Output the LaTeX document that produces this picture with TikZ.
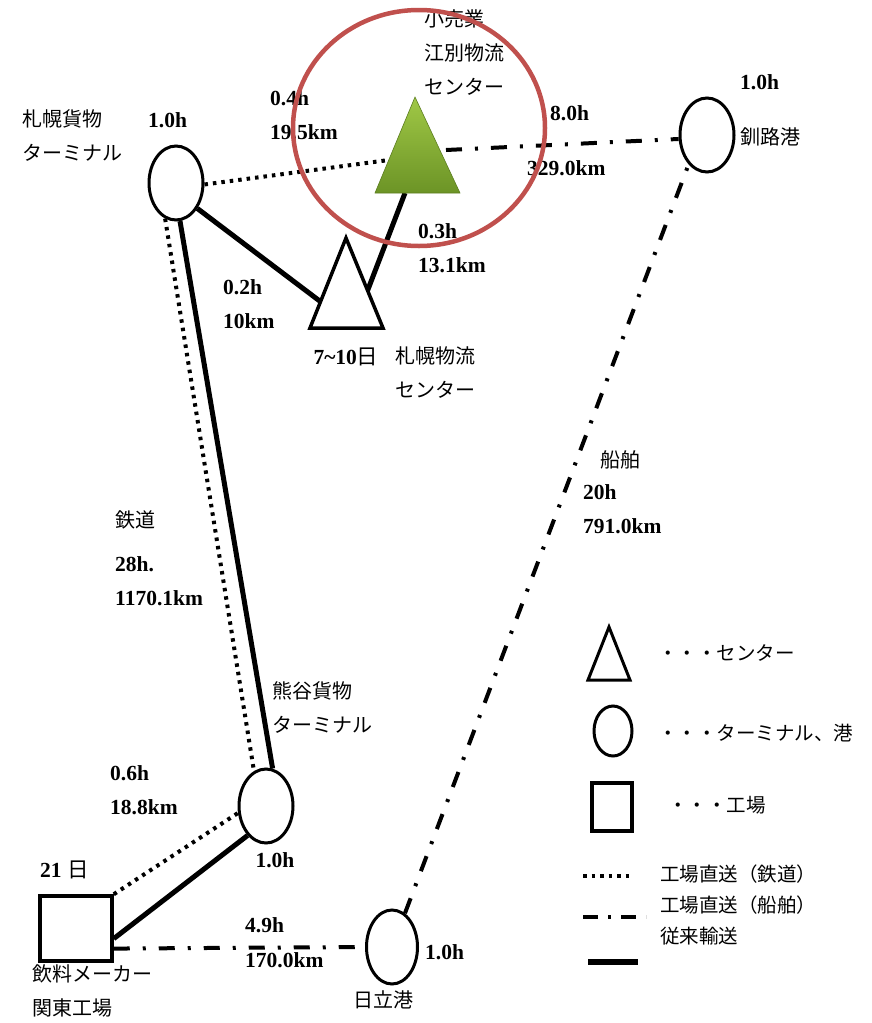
\documentclass[tikz,border=0pt]{standalone}
\usepackage{fontspec}
\setmainfont{Liberation Serif}
\newfontfamily\jp{Noto Sans CJK JP}
\usetikzlibrary{shapes.geometric}
\definecolor{redc}{RGB}{192,80,77}
\definecolor{gtop}{RGB}{160,200,70}
\definecolor{gbot}{RGB}{108,148,38}
\begin{document}
\begin{tikzpicture}[x=1pt,y=-1pt,
 term/.style={draw,ellipse,line width=3pt,minimum width=54pt,minimum height=74pt,inner sep=0pt,fill=white},
 num/.style={font=\bfseries\fontsize{21.5}{34}\selectfont,align=left,inner sep=0pt},
 jtx/.style={font=\jp\fontsize{20}{34}\selectfont,align=left,inner sep=0pt},
 lgtx/.style={font=\jp\fontsize{19.5}{31}\selectfont,align=left,inner sep=0pt},
 conv/.style={line width=5pt},
 rail/.style={line width=4pt,dash pattern=on 3.5pt off 5pt},
 ship/.style={line width=4pt,dash pattern=on 16pt off 13pt on 3pt off 13pt},
]
\useasboundingbox[fill=white] (0,0) rectangle (872,1023);

% coordinates on triangles
\coordinate (ebL) at (389,160);
\coordinate (ebR) at (446,150);
\coordinate (ebB) at (405,193);
\coordinate (saL) at (321,302);
\coordinate (saR) at (367,292);

% terminals / ports
\node[term] (sap) at (176,183) {};
\node[term] (kus) at (707,135) {};
\node[term] (kum) at (266,806) {};
\node[term, minimum width=51pt] (hit) at (392,947) {};
\node[draw,line width=3.5pt,minimum width=72pt,minimum height=65pt,inner sep=0pt] (fac) at (76,928.5) {};

% connectors
\draw[rail] (sap.-3) -- (ebL);
\draw[ship] (ebR) -- (kus.188);
\draw[conv] (sap.-50) -- (saL);
\draw[conv] (ebB) -- (saR);
\draw[rail] (sap.-107) -- (kum.109);
\draw[conv] (sap.-84) -- (kum.80);
\draw[rail] (fac.north east) -- (kum.-166);
\draw[conv] (fac.-15) -- (kum.-122);
\draw[ship] (fac.-28) -- (hit.west);
\draw[ship] (hit.69) -- (kus.-122);

% triangles
\shade[top color=gtop,bottom color=gbot,draw=gbot!85!black,line width=0.6pt] (375,193) -- (415,97) -- (460,193) -- cycle;
\draw[line width=3.5pt,fill=white,line join=miter] (310,328) -- (346,238) -- (383,328) -- cycle;

% labels
\node[jtx,anchor=west] (lsap) at (22,135) {札幌貨物\\ターミナル};
\node[num,anchor=west] (tsap) at (148,120) {1.0h};
\node[num,anchor=west] (d1) at (270,115) {0.4h\\19.5km};
\node[jtx,anchor=west] (leb) at (424,53) {小売業\\江別物流\\センター};
\node[num,anchor=west] (d2a) at (550,113) {8.0h};
\node[num,anchor=west] (d2b) at (527,168) {329.0km};
\node[num,anchor=west] (tkus) at (740,82) {1.0h};
\node[jtx,anchor=west] (lkus) at (740,137) {釧路港};
\node[num,anchor=west] (d3) at (418,248) {0.3h\\13.1km};
\node[num,anchor=west] (d4) at (223,304) {0.2h\\10km};
\node[num] (dsa) at (346,357) {7\textasciitilde 10{\jp\mdseries 日}};
\node[jtx,anchor=west] (lsa) at (395,373) {札幌物流\\センター};
\node[jtx,anchor=west] (lrail) at (115,520) {鉄道};
\node[num,anchor=west] (d5) at (115,581) {28h.\\1170.1km};
\node[jtx,anchor=west] (lkum) at (272,707) {熊谷貨物\\ターミナル};
\node[num,anchor=west] (d6) at (110,790) {0.6h\\18.8km};
\node[num] (tkum) at (275,860) {1.0h};
\node[num,anchor=west] (dfac) at (40,870) {21 {\jp\mdseries 日}};
\node[jtx,anchor=west] (lfac) at (32,991) {飲料メーカー\\関東工場};
\node[num,anchor=west] (d7a) at (245,925) {4.9h};
\node[num,anchor=west] (d7b) at (245,960) {170.0km};
\node[num,anchor=west] (thit) at (425,952) {1.0h};
\node[jtx] (lhit) at (383,1000) {日立港};
\node[jtx,anchor=west] (lship) at (600,460) {船舶};
\node[num,anchor=west] (d8) at (583,509) {20h\\791.0km};

% legend
\draw[line width=3pt,line join=miter] (588,680) -- (609,627) -- (630,680) -- cycle;
\node[lgtx,anchor=west] (lg1) at (658,653) {・・・センター};
\node[term,minimum width=38pt,minimum height=50pt] (lgc) at (613,731) {};
\node[lgtx,anchor=west] (lg2) at (658,733) {・・・ターミナル、港};
\node[draw,line width=3.5pt,minimum width=40pt,minimum height=48pt,inner sep=0pt] (lgs) at (612,807) {};
\node[lgtx,anchor=west] (lg3) at (668,805) {・・・工場};
\coordinate (r1) at (583,876); \coordinate (r2) at (632,876);
\draw[rail] (r1) -- (r2);
\coordinate (s1) at (583,917); \coordinate (s2) at (646,917);
\draw[line width=4pt,dash pattern=on 15pt off 10pt on 3pt off 10pt] (s1) -- (s2);
\coordinate (c1) at (588,962); \coordinate (c2) at (638,962);
\draw[line width=6pt] (c1) -- (c2);
\node[lgtx,anchor=west] (lg4) at (660,905) {工場直送（鉄道）\\工場直送（船舶）\\従来輸送};

% highlight
\draw[redc,line width=4.5pt] (419,128) ellipse [x radius=126pt, y radius=118pt];
\end{tikzpicture}
\end{document}
